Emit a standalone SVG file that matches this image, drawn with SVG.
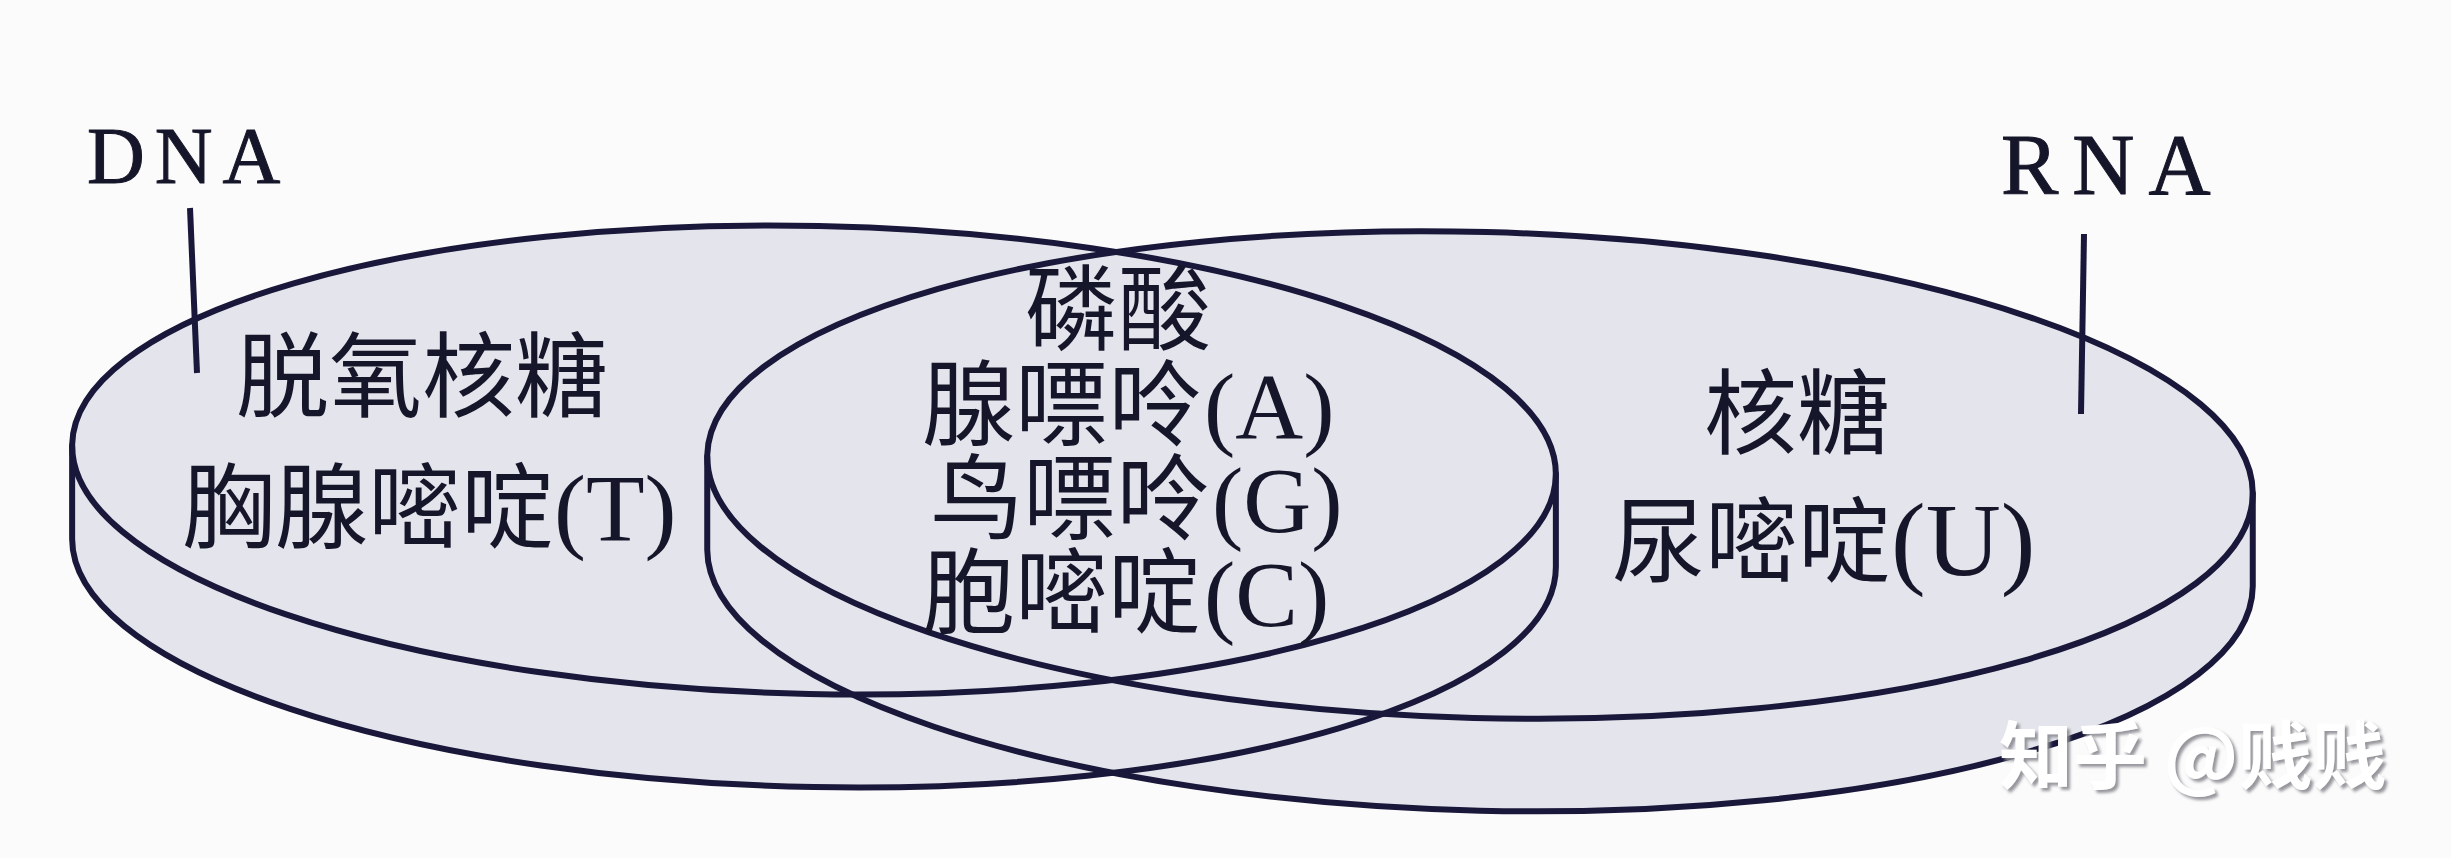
<svg xmlns="http://www.w3.org/2000/svg" width="2451" height="858" viewBox="0 0 2451 858">
<defs>
<style>
.disc{fill:#e4e5ec;stroke:none}
.edge{fill:none;stroke:#19183a;stroke-width:6;stroke-linejoin:round;stroke-linecap:round}
.lead{fill:none;stroke:#19183a;stroke-width:6;stroke-linecap:butt}
.lbl{font-family:"Liberation Serif","Noto Sans CJK SC",serif;fill:#16162a;stroke:#16162a;stroke-width:1}
.cn{font-family:"Liberation Serif","Noto Sans CJK SC",serif;font-size:93px;fill:#16162a}
.lat{font-size:94px}
.wm{font-family:"Noto Sans CJK SC","Noto Sans",sans-serif;font-weight:bold;font-size:74px;fill:#ffffff;filter:url(#sh)}
</style>
<filter id="sh" x="-10%" y="-30%" width="120%" height="160%">
<feDropShadow dx="3" dy="3" stdDeviation="1.5" flood-color="#8a8a92" flood-opacity="0.9"/>
</filter>
</defs>
<rect x="0" y="0" width="2451" height="858" fill="#fbfbfb"/>

<g id="disc-fills">
<path class="disc" d="M 72.14 446.01 A 742 234 1.2 0 1 1555.86 473.99 L 1555.86 566.99 A 742 234 1.2 0 1 72.14 539.01 Z"/>
<path class="disc" d="M 707.24 456.77 A 773 243 1.5 0 1 2252.76 493.23 L 2252.76 586.23 A 773 243 1.5 0 1 707.24 549.77 Z"/>
</g>

<g id="dna">
<ellipse class="edge" cx="814" cy="460" rx="742" ry="234" transform="rotate(1.2 814 460)"/>
<path class="edge" d="M 72.14 446.01 L 72.14 539.01 A 742 234 1.2 0 0 1555.86 566.99 L 1555.86 473.99"/>
<text class="lbl" x="87" y="183" font-size="80" letter-spacing="10">DNA</text>
<text class="cn" x="236" y="410" font-size="90">脱氧核糖</text>
<text class="cn" x="182" y="541" font-size="91">胸腺嘧啶<tspan font-size="96">(T)</tspan></text>
</g>

<g id="rna">
<ellipse class="edge" cx="1480" cy="475" rx="773" ry="243" transform="rotate(1.5 1480 475)"/>
<path class="edge" d="M 707.24 456.77 L 707.24 549.77 A 773 243 1.5 0 0 2252.76 586.23 L 2252.76 493.23"/>
<text class="lbl" x="2001" y="194" font-size="86" letter-spacing="14">RNA</text>
<text class="cn" x="1704" y="447" font-size="94">核糖</text>
<text class="cn" x="1612" y="575" font-size="95">尿嘧啶<tspan font-size="104">(U)</tspan></text>
</g>

<g id="shared">
<text class="cn" x="1025" y="343" font-size="91">磷酸</text>
<text class="cn" x="922" y="438">腺嘌呤<tspan class="lat" dx="3">(A)</tspan></text>
<text class="cn" x="930" y="532">鸟嘌呤<tspan class="lat" dx="3">(G)</tspan></text>
<text class="cn" x="922" y="626">胞嘧啶<tspan class="lat" dx="3">(C)</tspan></text>
</g>

<g id="connectors">
<line class="lead" x1="190" y1="208" x2="197" y2="373"/>
<line class="lead" x1="2084" y1="234" x2="2081" y2="414"/>
</g>

<g id="watermark">
<text class="wm" x="1999" y="783">知乎 @贱贱</text>
</g>
</svg>
